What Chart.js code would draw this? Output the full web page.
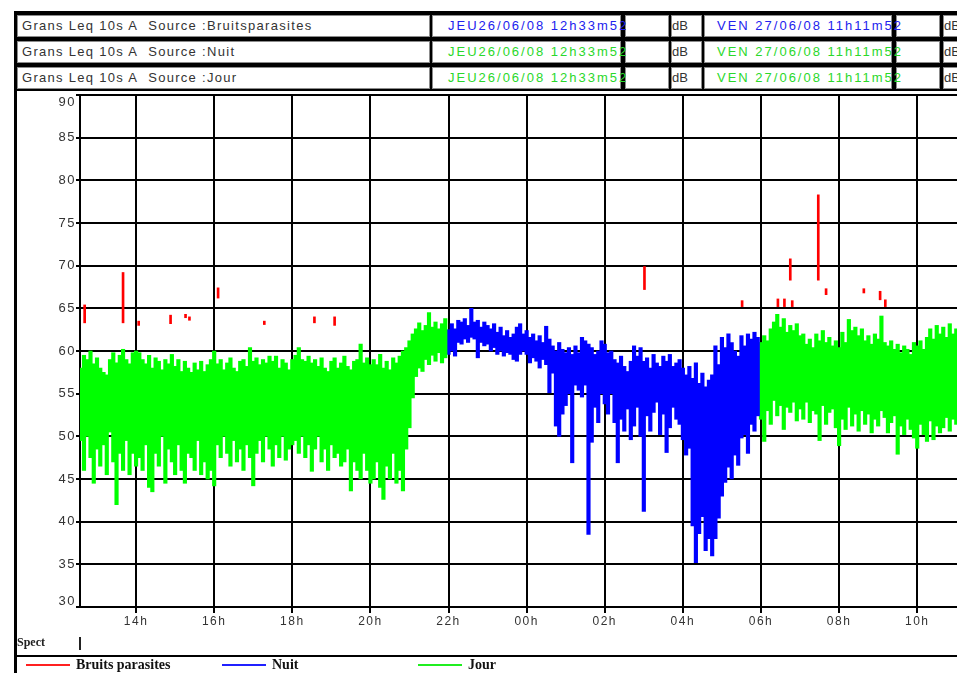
<!DOCTYPE html>
<html>
<head>
<meta charset="utf-8">
<script src="https://cdn.jsdelivr.net/npm/chart.js@4.4.1/dist/chart.umd.min.js"></script>
<style>
html, body { margin:0; padding:0; background:#fff; overflow:hidden; }
#page { position:relative; width:980px; height:673px; background:#fff; }
#chart { position:absolute; left:0; top:0; z-index:1; }
#leftBar { position:absolute; left:14px; top:11px; width:3px; height:662px; background:#000; z-index:3; }
#head { position:absolute; left:14px; top:11px; width:966px; height:80px; background:#000; z-index:2; }
.cell { position:absolute; background:#fff; border:1px solid #8c8c8c; box-sizing:border-box; height:22px;
        font:13px Arial, "Liberation Sans", sans-serif; line-height:20px; white-space:nowrap; color:#333; }
.lbl { letter-spacing:1.3px; padding-left:4px; }
.date { letter-spacing:2px; }
.blue { color:#2222ee; }
.green { color:#2ad82a; }
#sep { position:absolute; left:14px; top:655px; width:966px; height:2px; background:#000; z-index:2; }
#spect { position:absolute; left:17px; top:635px; font:bold 12px "Liberation Serif", serif; color:#222; z-index:2; }
#spectTick { position:absolute; left:79px; top:637px; width:2px; height:13px; background:#222; z-index:2; }
.leg { position:absolute; top:657px; height:16px; font:bold 14px "Liberation Serif", serif; color:#111; z-index:2; line-height:16px; white-space:nowrap; }
.leg i { display:inline-block; width:44px; height:2px; vertical-align:middle; margin-right:6px; position:relative; top:-1px; }
</style>
</head>
<body>
<div id="page">
  <canvas id="chart" width="980" height="673"></canvas>
  <div id="head"></div>
  <div id="leftBar"></div>
  <div id="rows"></div>
  <div id="sep"></div>
  <div id="spect">Spect</div>
  <div id="spectTick"></div>
  <div class="leg" style="left:26px"><i style="background:#ff2020"></i>Bruits parasites</div>
  <div class="leg" style="left:222px"><i style="background:#2020ff"></i>Nuit</div>
  <div class="leg" style="left:418px"><i style="background:#20ee20"></i>Jour</div>
</div>
<script>
// header
const sources = ["Bruitsparasites", "Nuit", "Jour"];
const startLabel = "12h33m52";
const endLabel = "11h11m52";
const startStamp = "12:33:52";
const endStamp = "11:11:52";

// x axis labels (hours)
const xTickLabels = ["14h","16h","18h","20h","22h","00h","02h","04h","06h","08h","10h"];

// Leq 10s A, envelope per 5 min (low / high), dB
const STEP_MIN = 5;

// Jour, 12:35 -> 21:55
const jour1Start = "12:35";
const jour1Hi = [58.0,59.5,59.0,60.0,58.5,59.2,58.0,57.5,57.2,59.0,59.8,58.6,59.5,60.2,59.0,58.5,59.8,60.0,
  59.8,59.0,58.5,59.5,58.0,59.2,58.8,57.8,59.0,58.5,59.6,58.2,59.0,57.6,58.8,58.0,57.5,58.6,57.8,58.8,57.6,58.4,59.0,60.0,
  58.5,59.0,57.8,58.6,59.2,58.0,57.6,58.8,59.0,58.2,60.4,58.8,59.2,58.4,59.0,58.6,59.4,58.8,59.4,58.0,59.0,58.6,57.8,59.0,
  59.5,60.4,59.0,58.8,59.4,58.6,59.0,58.2,59.2,58.0,57.6,58.8,59.2,58.0,58.6,59.4,58.2,57.8,58.8,59.0,60.8,58.6,59.2,58.4,
  59.0,58.4,59.6,58.0,58.8,57.8,59.2,58.6,59.4,60.0,60.4,61.2,62.0,62.6,63.3,62.4,63.0,64.5,62.8,63.4,62.6,63.2,63.8];
const jour1Lo = [49.5,46.0,50.0,47.5,44.5,48.5,46.5,49.0,45.5,50.5,47.0,42.0,48.0,46.0,49.5,45.5,48.0,46.5,
  47.5,46.0,49.0,44.0,43.5,48.0,46.5,50.0,44.5,48.5,47.0,45.5,49.0,46.0,44.5,48.0,47.5,46.0,49.5,45.5,47.0,45.0,46.0,44.2,
  49.0,47.5,50.0,48.0,46.5,49.5,47.0,48.5,46.0,49.0,47.5,44.2,48.0,49.5,47.0,50.0,48.5,46.5,49.0,47.5,50.0,47.2,48.5,49.0,
  49.5,48.0,50.0,47.5,49.0,45.9,48.5,50.0,47.0,48.5,46.0,49.0,47.5,48.0,46.5,47.0,48.5,43.6,47.0,46.0,45.0,48.0,46.0,44.5,
  45.0,47.0,44.0,42.6,46.5,45.0,48.0,44.5,46.0,43.6,48.5,51.0,54.5,57.0,58.0,57.6,59.0,58.4,59.5,58.8,59.8,58.6,59.2];

// Nuit, 22:00 -> 05:55
const nuitStart = "22:00";
const nuitHi = [62.5,63.2,62.6,63.6,63.4,63.8,63.0,65.0,63.4,63.6,62.8,63.4,63.0,62.6,63.2,62.2,62.8,61.8,62.4,61.6,62.0,62.8,63.2,62.0,
  62.4,61.6,62.0,61.2,61.8,61.0,62.9,61.4,60.6,60.0,61.0,60.2,59.8,60.4,59.6,60.6,59.8,61.6,61.2,60.8,60.4,59.6,60.0,61.2,
  60.8,59.8,60.0,59.0,58.6,59.4,58.2,57.6,58.8,60.6,59.4,60.4,58.8,59.2,58.0,59.6,58.6,58.2,59.4,58.8,59.6,58.2,58.6,59.0,
  58.0,57.2,58.2,56.8,58.6,56.2,57.4,55.8,56.6,57.2,60.6,58.4,61.6,60.4,62.0,61.0,60.0,59.4,61.8,60.6,62.0,61.4,62.2,61.6];
const nuitLo = [59.6,60.0,59.4,61.0,60.8,61.4,61.0,61.6,61.4,59.2,61.0,60.6,60.8,60.0,60.4,59.6,60.0,59.4,59.8,59.6,59.0,58.8,59.6,60.0,
  59.6,58.6,59.2,58.8,58.0,59.0,58.4,55.1,57.4,51.2,50.0,52.6,53.6,55.0,46.9,56.0,55.4,54.6,56.0,38.5,49.3,53.4,51.6,55.0,
  53.8,52.6,55.0,51.6,46.9,52.0,50.6,53.2,49.6,51.2,53.4,50.0,41.2,52.4,50.6,52.8,54.0,50.2,52.6,48.1,51.0,53.4,52.0,51.4,
  49.6,47.8,48.6,39.5,35.2,38.6,40.6,36.6,38.0,36.0,38.0,40.4,43.0,44.6,46.4,45.0,47.8,46.6,49.8,50.2,48.0,51.4,50.6,52.4];

// Jour, 06:00 -> 11:10
const jour2Start = "06:00";
const jour2Hi = [61.0,61.8,61.2,62.6,63.4,64.3,62.8,63.8,62.2,63.0,62.4,63.2,61.8,62.0,60.8,61.4,60.4,62.0,61.2,62.4,61.0,
  61.6,60.6,61.2,60.4,62.2,61.0,63.7,62.4,62.8,61.8,62.6,61.2,61.8,60.8,62.0,61.4,64.1,61.0,60.6,61.2,60.2,
  60.8,59.8,60.6,60.2,59.6,61.0,60.6,61.2,60.2,61.6,62.6,61.4,63.0,62.0,62.8,61.6,63.2,62.0,62.6,61.8,62.4];
const jour2Lo = [52.0,49.4,53.0,51.4,54.2,52.4,53.6,50.8,53.4,52.8,54.0,51.8,53.2,52.0,54.0,51.6,53.0,52.6,49.5,53.6,51.4,
  52.8,53.2,51.0,48.9,52.0,50.8,53.4,51.2,52.6,50.6,53.0,51.4,52.6,50.4,52.0,51.2,53.0,52.2,50.4,51.6,52.4,
  47.9,51.2,50.2,52.0,50.8,49.8,48.6,51.4,50.2,49.4,51.8,49.6,51.2,50.4,51.0,52.2,50.6,52.0,51.4,52.6,51.8];

// Bruits parasites: isolated events
const redTimes = ["12:41","13:40","14:04","14:53","15:16","15:22","16:06","17:17","18:34","19:05",
  "03:01","05:31","06:26","06:36","06:45","06:48","07:28","07:40","08:38","09:03","09:11"];
const redLo = [63.3,63.3,63.0,63.2,63.9,63.6,66.2,63.1,63.3,63.0,67.2,65.2,65.2,65.2,68.3,65.2,68.3,66.6,66.8,66.0,65.2];
const redHi = [65.4,69.2,63.5,64.2,64.3,64.0,67.4,63.5,64.0,64.0,69.9,65.9,66.1,66.1,70.8,65.9,78.3,67.3,67.3,67.0,66.0];

// time "hh:mm[:ss]" -> hours since 26/06 00:00 (morning belongs to 27/06)
function parseT(s){
  const p = s.split(":").map(Number);
  let t = p[0] + p[1]/60 + (p[2]||0)/3600;
  if (t < 12) t += 24;
  return t;
}
function envelope(start, lo, hi){
  const t0 = parseT(start);
  return lo.map((v,i)=>({ x: t0 + i*STEP_MIN/60, y: [v, hi[i]] }));
}

// header rows
const cellsX = [[17,413],[432,189],[625,44],[671,31],[704,188],[896,44],[943,40]];
const rowsY = [15,41,67];
const rowsEl = document.getElementById("rows");
sources.forEach((src, r)=>{
  const cls = r===0 ? "blue" : "green";
  const texts = [
    `<span class="lbl">Grans Leq 10s A&nbsp; Source :${src}</span>`,
    `<span class="date ${cls}" style="padding-left:15px">JEU26/06/08 ${startLabel}</span>`,
    "", "dB",
    `<span class="date ${cls}" style="padding-left:12px">VEN 27/06/08 ${endLabel}</span>`,
    "", "dB"
  ];
  cellsX.forEach(([x,w],c)=>{
    const d = document.createElement("div");
    d.className = "cell";
    d.style.cssText = `left:${x}px;top:${rowsY[r]}px;width:${w}px;z-index:${c===1||c===4?5:4};`;
    d.innerHTML = texts[c];
    rowsEl.appendChild(d);
  });
});

// wider glyph spacing, and keep the end labels of the y axis inside the plot
const axisText = {
  id:"axisText",
  beforeDraw(c){
    c.ctx.letterSpacing = "1.5px";
    const items = c.scales.y.getLabelItems();
    if (items.length){
      items[0].options.translation[1] -= 6;
      items[items.length-1].options.translation[1] += 7;
    }
  }
};

new Chart(document.getElementById("chart"), {
  type: "bar",
  data: {
    datasets: [
      { label:"Jour", data: envelope(jour1Start, jour1Lo, jour1Hi), backgroundColor:"#00ff00", barThickness:3.5, grouped:false },
      { label:"Nuit", data: envelope(nuitStart, nuitLo, nuitHi), backgroundColor:"#0000ff", barThickness:3.5, grouped:false },
      { label:"Jour", data: envelope(jour2Start, jour2Lo, jour2Hi), backgroundColor:"#00ff00", barThickness:3.5, grouped:false },
      { label:"Bruits parasites", data: redTimes.map((t,i)=>({ x: parseT(t), y: [redLo[i], redHi[i]] })),
        backgroundColor:"#ff0000", barThickness:2, grouped:false },
    ]
  },
  options: {
    responsive:false, animation:false, parsing:{ xAxisKey:"x", yAxisKey:"y" },
    layout:{ padding:{ top:95, right:16, left:0, bottom:0 } },
    scales:{
      x:{ type:"linear", min: parseT(startStamp), max: parseT(endStamp), offset:false, z:1,
        afterBuildTicks: s => { s.ticks = xTickLabels.map(l => ({ value: parseT(l.replace("h", ":00")) })); },
        afterFit: s => { s.height = 66; },
        ticks:{ color:"#333", padding:1, maxRotation:0, autoSkip:false, font:{ family:"Arial", size:12 },
          callback: (v, i) => xTickLabels[i] },
        grid:{ color:"#000", lineWidth:2, tickLength:6, tickColor:"#000", offset:false },
        border:{ color:"#000", width:2 } },
      y:{ min:30, max:90, z:1,
        afterFit: s => { s.width = 80; },
        ticks:{ stepSize:5, color:"#333", padding:0, font:{ family:"Arial", size:13 } },
        grid:{ color:"#000", lineWidth:2, tickLength:4, tickColor:"#000" },
        border:{ color:"#000", width:2 } }
    },
    plugins:{ legend:{ display:false }, tooltip:{ enabled:false } }
  },
  plugins:[axisText]
});
</script>
</body>
</html>
